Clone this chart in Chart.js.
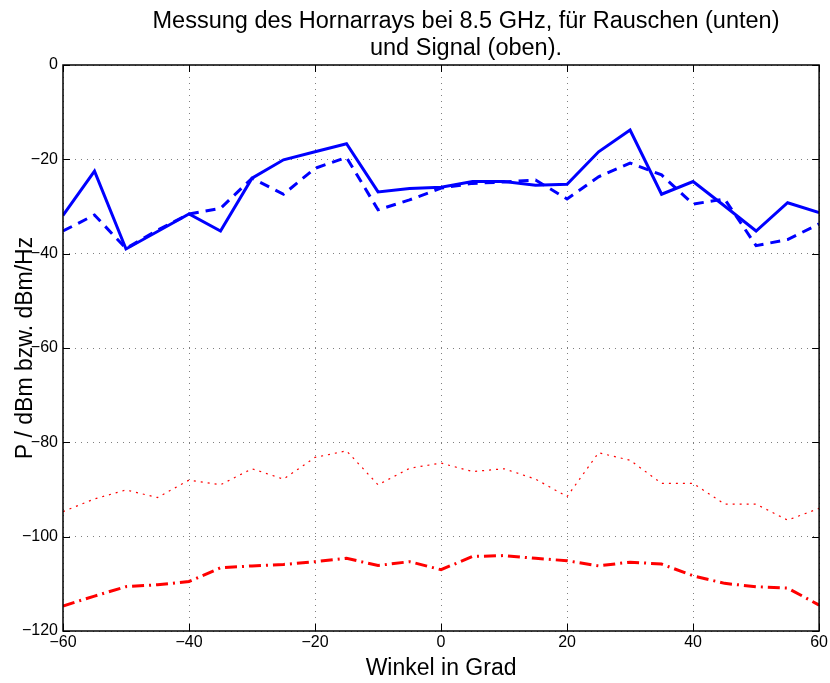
<!DOCTYPE html>
<html>
<head>
<meta charset="utf-8">
<script src="https://cdn.jsdelivr.net/npm/chart.js@4/dist/chart.umd.min.js"></script>
<style>
  html, body { margin: 0; padding: 0; background: #fff; }
  canvas { display: block; }
</style>
</head>
<body>
<canvas id="hornChart" width="830" height="683"></canvas>
<script>
// Winkel in Grad
const angles = [-60, -55, -50, -45, -40, -35, -30, -25, -20, -15, -10, -5, 0,
  5, 10, 15, 20, 25, 30, 35, 40, 45, 50, 55, 60];

// Signal (oben), zwei Messungen
const signalSolid = [-31.9, -22.5, -39.0, -35.3, -31.6, -35.2, -24.0, -20.1, -18.4, -16.7, -26.9, -26.2, -25.9,
  -24.7, -24.7, -25.5, -25.3, -18.4, -13.8, -27.4, -24.7, -29.9, -35.2, -29.2, -31.3];
const signalDashed = [-35.2, -31.8, -38.9, -35.0, -31.6, -30.4, -24.0, -27.4, -21.9, -19.6, -30.7, -28.6, -26.1,
  -25.1, -24.8, -24.4, -28.4, -23.7, -20.8, -23.3, -29.5, -28.4, -38.3, -37.0, -33.7];

// Rauschen (unten)
const noiseDotted = [-94.7, -92.0, -90.1, -91.7, -88.0, -89.0, -85.6, -87.8, -83.2, -81.8, -89.0, -85.5, -84.4,
  -86.2, -85.6, -87.8, -91.5, -82.2, -83.8, -88.7, -88.7, -93.1, -93.1, -96.5, -94.0];
const noiseDashDot = [-114.7, -112.6, -110.6, -110.2, -109.5, -106.6, -106.2, -105.9, -105.3, -104.6, -106.1, -105.3, -107.0,
  -104.2, -104.0, -104.6, -105.1, -106.2, -105.4, -105.8, -108.3, -109.9, -110.6, -110.9, -114.5];

const titleLines = ['Messung des Hornarrays bei 8.5 GHz, für Rauschen (unten)', 'und Signal (oben).'];
const xLabel = 'Winkel in Grad';
const yLabel = 'P / dBm bzw. dBm/Hz';

Chart.defaults.font.family = '"Liberation Sans", Arial, Helvetica, sans-serif';
Chart.defaults.color = '#000';

const toPoints = (values) => values.map((v, i) => ({ x: angles[i], y: v }));
const minusFmt = (v) => String(v).replace('-', '\u2212');

// matlab-like box with inward ticks on all four sides
const axesFrame = {
  id: 'axesFrame',
  afterDraw(chart) {
    const { ctx, chartArea: a, scales: { x, y } } = chart;
    const len = 7;
    ctx.save();
    ctx.strokeStyle = '#000';
    ctx.lineWidth = 1;
    ctx.beginPath();
    x.ticks.forEach((t) => {
      const px = Math.round(x.getPixelForValue(t.value)) + 0.5;
      ctx.moveTo(px, a.bottom); ctx.lineTo(px, a.bottom - len);
      ctx.moveTo(px, a.top); ctx.lineTo(px, a.top + len);
    });
    y.ticks.forEach((t) => {
      const py = Math.round(y.getPixelForValue(t.value)) + 0.5;
      ctx.moveTo(a.left, py); ctx.lineTo(a.left + len, py);
      ctx.moveTo(a.right, py); ctx.lineTo(a.right - len, py);
    });
    ctx.stroke();
    ctx.lineWidth = 1.5;
    ctx.strokeRect(a.left, a.top, a.right - a.left, a.bottom - a.top);
    ctx.restore();
  },
};

// two-line title above the axes
const titleBlock = {
  id: 'titleBlock',
  afterDraw(chart) {
    const { ctx } = chart;
    ctx.save();
    ctx.fillStyle = '#000';
    ctx.font = '23.5px ' + Chart.defaults.font.family;
    ctx.textAlign = 'center';
    ctx.textBaseline = 'alphabetic';
    titleLines.forEach((line, i) => ctx.fillText(line, 466, 28 + i * 27));
    ctx.restore();
  },
};

const gridStyle = { color: 'rgba(0,0,0,0.5)', lineWidth: 1, drawTicks: false };
const tickFont = { size: 16 };

new Chart(document.getElementById('hornChart'), {
  type: 'line',
  data: {
    datasets: [
      {
        data: toPoints(signalSolid),
        borderColor: '#0000ff',
        borderWidth: 3,
      },
      {
        data: toPoints(signalDashed),
        borderColor: '#0000ff',
        borderWidth: 3,
        borderDash: [10, 7],
      },
      {
        data: toPoints(noiseDotted),
        borderColor: '#ff0000',
        borderWidth: 1.2,
        borderDash: [2, 5],
      },
      {
        data: toPoints(noiseDashDot),
        borderColor: '#ff0000',
        borderWidth: 3,
        borderDash: [12, 5, 2, 5],
      },
    ],
  },
  options: {
    responsive: false,
    animation: false,
    layout: { padding: { top: 65, right: 9, bottom: 0, left: 0 } },
    elements: { point: { radius: 0 }, line: { tension: 0, fill: false } },
    plugins: {
      legend: { display: false },
      title: { display: false },
      tooltip: { enabled: false },
    },
    scales: {
      x: {
        type: 'linear',
        min: -60,
        max: 60,
        ticks: { stepSize: 20, padding: 2, font: tickFont, maxRotation: 0, autoSkip: false, callback: minusFmt },
        grid: gridStyle,
        border: { display: false, dash: [1, 5] },
        title: { display: true, text: xLabel, font: { size: 23 }, padding: { top: 0, bottom: 1 } },
        afterFit(scale) { scale.height = 52; },
      },
      y: {
        min: -120,
        max: 0,
        ticks: { stepSize: 20, padding: 5, font: tickFont, callback: minusFmt },
        grid: gridStyle,
        border: { display: false, dash: [1, 5] },
        title: { display: true, text: yLabel, font: { size: 23 }, padding: { top: 12, bottom: 0 } },
        afterFit(scale) { scale.width = 63; },
      },
    },
  },
  plugins: [axesFrame, titleBlock],
});
</script>
</body>
</html>
